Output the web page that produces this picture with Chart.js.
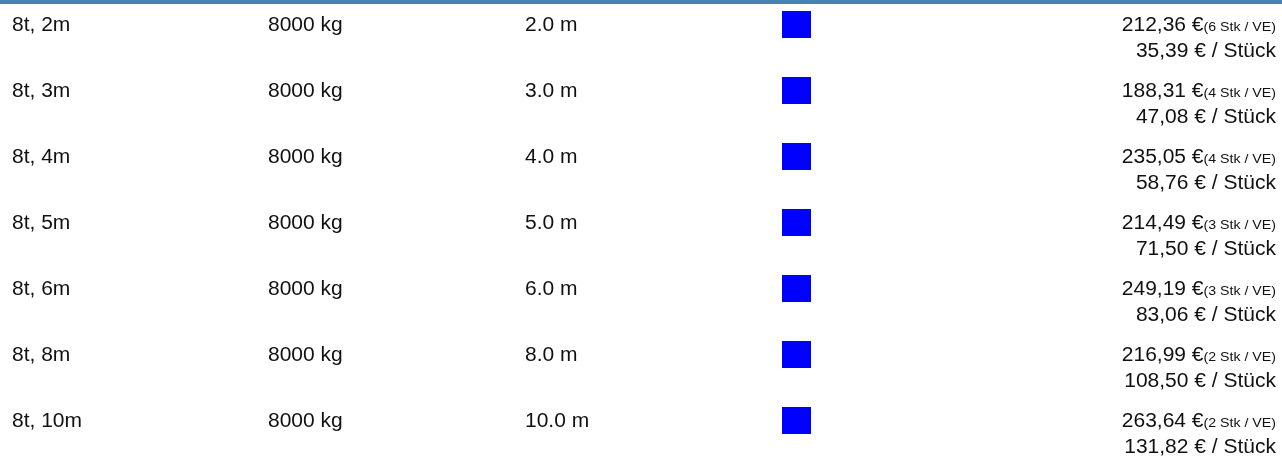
<!DOCTYPE html>
<html>
<head>
<meta charset="utf-8">
<script src="https://cdn.jsdelivr.net/npm/chart.js@4.4.0/dist/chart.umd.min.js"></script>
<style>
  html, body { margin: 0; padding: 0; background: #fff; }
  #wrap { width: 1282px; height: 455px; border-top: 4px solid #4682b4; }
</style>
</head>
<body>
<div id="wrap"><canvas id="tbl" width="1282" height="455"></canvas></div>
<script>
// --- data ---
const rowNames = ['8t, 2m', '8t, 3m', '8t, 4m', '8t, 5m', '8t, 6m', '8t, 8m', '8t, 10m'];
const loadsKg = [8000, 8000, 8000, 8000, 8000, 8000, 8000];
const lengthsM = [2, 3, 4, 5, 6, 8, 10];
const packPrices = [212.36, 188.31, 235.05, 214.49, 249.19, 216.99, 263.64];
const packSizes = [6, 4, 4, 3, 3, 2, 2];
const unitPrices = [35.39, 47.08, 58.76, 71.50, 83.06, 108.50, 131.82];

// --- layout ---
const colX = [12, 268, 525, 800, 1276];   // left edges, swatch centre, right edge
const FONT = '"Liberation Sans", Arial, Helvetica, sans-serif';
const STRETCH = 1.05;
const TEXT = '#111';

const euro = v => v.toFixed(2).replace('.', ',') + ' \u20ac';

// blue swatch as point image
const swatch = document.createElement('canvas');
swatch.width = 29; swatch.height = 27;
const sctx = swatch.getContext('2d');
sctx.fillStyle = '#0000ff';
sctx.fillRect(0, 0, 29, 27);

function put(ctx, txt, x, y, size, align) {
  ctx.save();
  ctx.font = `${size}px ${FONT}`;
  ctx.textAlign = align;
  ctx.textBaseline = 'alphabetic';
  ctx.translate(x, y);
  ctx.scale(STRETCH, 1);
  ctx.fillText(txt, 0, 0);
  const w = ctx.measureText(txt).width * STRETCH;
  ctx.restore();
  return w;
}

const rowText = {
  id: 'rowText',
  afterDatasetsDraw(chart) {
    const { ctx, scales: { y } } = chart;
    ctx.save();
    ctx.fillStyle = TEXT;
    rowNames.forEach((name, i) => {
      const cy = y.getPixelForValue(i);
      const base = cy + 7;
      put(ctx, name, colX[0], base, 20, 'left');
      put(ctx, loadsKg[i] + ' kg', colX[1], base, 20, 'left');
      put(ctx, lengthsM[i].toFixed(1) + ' m', colX[2], base, 20, 'left');
      const sw = put(ctx, `(${packSizes[i]} Stk / VE)`, colX[4], base, 13.5, 'right');
      put(ctx, euro(packPrices[i]), colX[4] - sw, base, 20, 'right');
      put(ctx, euro(unitPrices[i]) + ' / St\u00fcck', colX[4], base + 26, 20, 'right');
    });
    ctx.restore();
  }
};

new Chart(document.getElementById('tbl').getContext('2d'), {
  type: 'scatter',
  data: {
    labels: rowNames,
    datasets: [{
      data: rowNames.map((n, i) => ({ x: colX[3], y: n })),
      pointStyle: swatch,
      pointRadius: 14,
      pointHoverRadius: 14
    }]
  },
  options: {
    responsive: false,
    animation: false,
    events: [],
    layout: { padding: { top: 20, bottom: 39, left: 0, right: 0 } },
    plugins: { legend: { display: false }, tooltip: { enabled: false } },
    scales: {
      x: { type: 'linear', min: 0, max: 1282, display: false },
      y: { type: 'category', labels: rowNames, offset: false, display: false }
    }
  },
  plugins: [rowText]
});
</script>
</body>
</html>
